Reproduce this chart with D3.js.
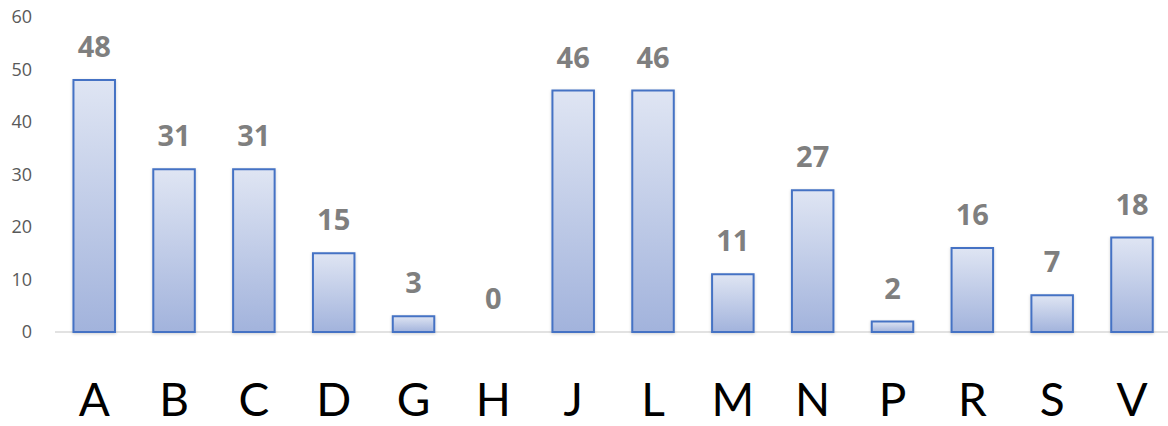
<!DOCTYPE html>
<html><head><meta charset="utf-8">
<script src="https://cdn.jsdelivr.net/npm/d3@7"></script>
<style>html,body{margin:0;padding:0;background:#fff;overflow:hidden}</style>
</head><body>
<svg id="chart" width="1168" height="426"></svg>
<script>
const categories = ["A","B","C","D","G","H","J","L","M","N","P","R","S","V"];
const values = [48,31,31,15,3,0,46,46,11,27,2,16,7,18];
const yTicks = [0,10,20,30,40,50,60];

const svg = d3.select("#chart");
const x = d3.scaleBand().domain(categories).range([54.3, 1171.9]).paddingInner(0.48).paddingOuter(0.24);
const y = d3.scaleLinear().domain([0,60]).range([332,17]);

const defs = svg.append("defs");
const grad = defs.append("linearGradient").attr("id","bg").attr("x1",0).attr("y1",0).attr("x2",0).attr("y2",1);
grad.append("stop").attr("offset","0%").attr("stop-color","#dfe5f3");
grad.append("stop").attr("offset","100%").attr("stop-color","#a2b3dc");
const f = defs.append("filter").attr("id","sh").attr("x","-20%").attr("y","-20%").attr("width","140%").attr("height","140%");
f.append("feDropShadow").attr("dx",0).attr("dy",1).attr("stdDeviation",1.5).attr("flood-color","#000").attr("flood-opacity",0.18);

// axis line
svg.append("line").attr("x1",55).attr("x2",1168).attr("y1",y(0)).attr("y2",y(0))
  .attr("stroke","#d9d9d9").attr("stroke-width",1.5);

// y tick labels
svg.append("g").selectAll("text").data(yTicks).join("text")
  .attr("x",32).attr("y",d=>y(d)).attr("dy","0.35em").attr("text-anchor","end")
  .attr("font-family","'Open Sans', sans-serif").attr("font-size",18).attr("fill","#595959")
  .text(d=>d);

// bars
const data = categories.map((c,i)=>({c, v: values[i]})).filter(d=>d.v>0);
svg.append("g").selectAll("rect").data(data).join("rect")
  .attr("x",d=>x(d.c)).attr("width",x.bandwidth())
  .attr("y",d=>y(d.v)).attr("height",d=>y(0)-y(d.v))
  .attr("fill","url(#bg)").attr("stroke","#4472c4").attr("stroke-width",2)
  .attr("filter","url(#sh)");

// value labels
svg.append("g").selectAll("text").data(categories).join("text")
  .attr("x",c=>x(c)+x.bandwidth()/2).attr("y",(c,i)=>y(values[i])-23)
  .attr("text-anchor","middle")
  .attr("font-family","'Open Sans', sans-serif").attr("font-weight","bold").attr("font-size",29).attr("fill","#7f7f7f")
  .text((c,i)=>values[i]);

// category labels
svg.append("g").selectAll("text").data(categories).join("text")
  .attr("x",c=>x(c)+x.bandwidth()/2).attr("y",416)
  .attr("text-anchor","middle")
  .attr("font-family","Lato, sans-serif").attr("font-size",46).attr("fill","#000")
  .text(c=>c);
</script>
</body></html>
